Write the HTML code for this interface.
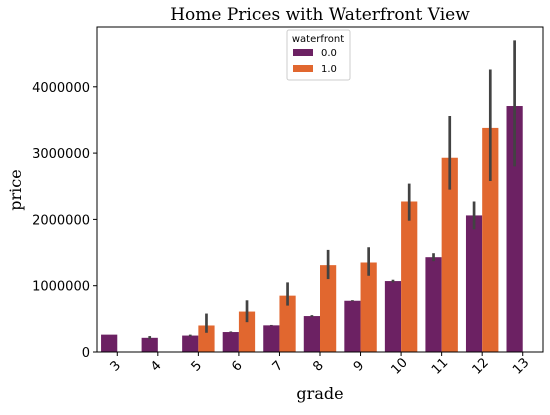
<!DOCTYPE html>
<html><head><meta charset="utf-8"><style>
body{margin:0;background:#fff}
svg text{font-family:"DejaVu Sans","Liberation Sans",sans-serif}
</style></head><body>
<svg id="chart" width="550" height="410" xmlns="http://www.w3.org/2000/svg">
<rect width="550" height="410" fill="#fff"/>
<text x="320" y="20" text-anchor="middle" font-size="17" style="font-family:'DejaVu Serif','Liberation Serif',serif">Home Prices with Waterfront View</text>
<text transform="translate(21,190) rotate(-90)" text-anchor="middle" font-size="16" style="font-family:'DejaVu Serif','Liberation Serif',serif">price</text>
<text x="320" y="399" text-anchor="middle" font-size="16" style="font-family:'DejaVu Serif','Liberation Serif',serif">grade</text>
<g id="plot"></g>
<rect x="97" y="27" width="446" height="325" fill="none" stroke="#000" stroke-width="1"/>
<g>
<rect x="287" y="30" width="63" height="50" fill="#fff" stroke="#ccc" rx="2"/>
<text x="318" y="42" text-anchor="middle" font-size="10">waterfront</text>
<rect x="293" y="49" width="20" height="7" fill="#6c2163"/>
<text x="321" y="56" font-size="10">0.0</text>
<rect x="293" y="65" width="20" height="7" fill="#e1672f"/>
<text x="321" y="72" font-size="10">1.0</text>
</g>
</svg>
<script>
const categories=["3","4","5","6","7","8","9","10","11","12","13"];
const noWater=[262000,214000,248000,301000,402000,542000,773000,1070000,1430000,2060000,3710000];
const noWaterLo=[262000,195000,235000,295000,398000,530000,765000,1050000,1370000,1850000,2800000];
const noWaterHi=[262000,240000,262000,310000,408000,556000,782000,1090000,1490000,2270000,4700000];
const water=[null,null,400000,610000,850000,1310000,1350000,2270000,2930000,3380000,null];
const waterLo=[null,null,290000,450000,700000,1100000,1150000,1980000,2450000,2580000,null];
const waterHi=[null,null,580000,780000,1050000,1540000,1580000,2540000,3560000,4260000,null];
const yTicks=[0,1000000,2000000,3000000,4000000];
const X0=97,X1=543,Y0=352,PPM=66.3e-6;
const bw=(X1-X0)/categories.length;
const y=v=>Y0-v*PPM;
const xc=i=>X0+bw*(i+0.5);
const g=document.getElementById('plot');
const NS="http://www.w3.org/2000/svg";
function mk(t,a){const e=document.createElementNS(NS,t);for(const k in a)e.setAttribute(k,a[k]);g.appendChild(e);return e;}
yTicks.forEach(v=>{
 const l=mk('line',{x1:X0-4,x2:X0,y1:y(v),y2:y(v),stroke:'#000'});
 
 
 const t=mk('text',{x:X0-7,y:y(v)+5,'text-anchor':'end','font-size':13});
 t.textContent=v;
 
 
});
function bar(i,v,lo,hi,off,col,name){
 if(v==null)return;
 const r=mk('rect',{x:xc(i)+off,y:y(v),width:bw*0.4,height:v*PPM,fill:col});
 
 
 const cx=xc(i)+off+bw*0.2;
 const e=mk('line',{x1:cx,x2:cx,y1:y(hi),y2:y(lo),stroke:'#424242','stroke-width':2.7});
 
 
}
categories.forEach((c,i)=>{
 bar(i,noWater[i],noWaterLo[i],noWaterHi[i],-bw*0.4,'#6c2163','bar-no-waterfront');
 bar(i,water[i],waterLo[i],waterHi[i],0,'#e1672f','bar-waterfront');
 const l=mk('line',{x1:xc(i),x2:xc(i),y1:Y0,y2:Y0+4,stroke:'#000'});
 
 
 const t=mk('text',{x:0,y:0,'text-anchor':'middle','font-size':13,transform:`translate(${xc(i)+1},${Y0+17}) rotate(-45)`});
 t.textContent=c;
 
 
});
</script>
</body></html>
